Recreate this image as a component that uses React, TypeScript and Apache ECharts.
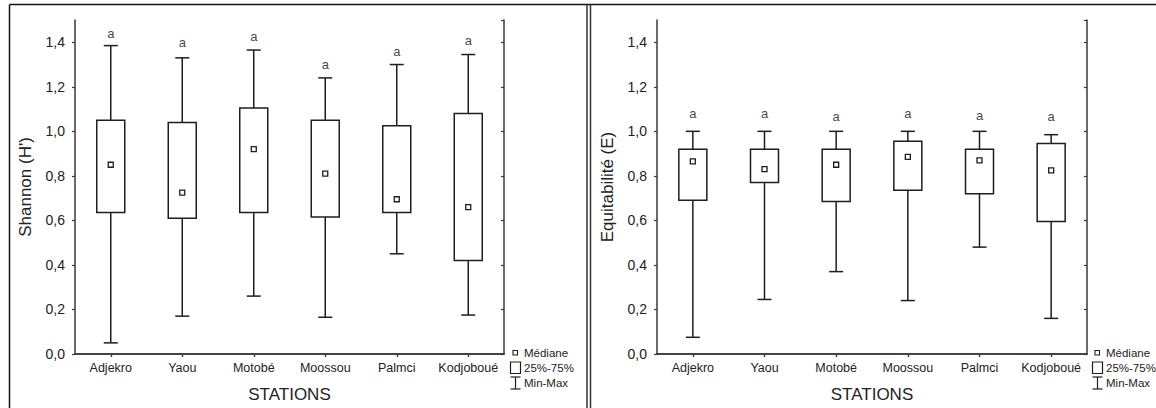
import React, { useEffect, useRef } from "react";
import * as echarts from "echarts";

const categories = ["Adjekro", "Yaou", "Motobé", "Moossou", "Palmci", "Kodjoboué"];
const yTickValues = [0, 0.2, 0.4, 0.6, 0.8, 1.0, 1.2, 1.4];

// Shannon (H')
const shannonMin = [0.05, 0.17, 0.26, 0.165, 0.45, 0.175];
const shannonQ1 = [0.635, 0.61, 0.635, 0.615, 0.635, 0.42];
const shannonMedian = [0.85, 0.725, 0.92, 0.81, 0.695, 0.66];
const shannonQ3 = [1.05, 1.04, 1.105, 1.05, 1.025, 1.08];
const shannonMax = [1.385, 1.33, 1.365, 1.24, 1.3, 1.345];
const shannonLetters = ["a", "a", "a", "a", "a", "a"];
const shannonLetterPos = [1.44, 1.4, 1.425, 1.3, 1.36, 1.41];

// Equitabilité (E)
const equitMin = [0.075, 0.245, 0.37, 0.24, 0.48, 0.16];
const equitQ1 = [0.69, 0.77, 0.685, 0.735, 0.72, 0.595];
const equitMedian = [0.865, 0.83, 0.85, 0.885, 0.87, 0.825];
const equitQ3 = [0.92, 0.92, 0.92, 0.955, 0.92, 0.945];
const equitMax = [1.0, 1.0, 1.0, 1.0, 1.0, 0.985];
const equitLetters = ["a", "a", "a", "a", "a", "a"];
const equitLetterPos = [1.08, 1.08, 1.065, 1.08, 1.07, 1.065];

const legendLabels = ["Médiane", "25%-75%", "Min-Max"];

const FONT = "'Liberation Sans', Arial, Helvetica, sans-serif";
const TEXT = "#222";
const LINE = "#1e1e1e";
const FRAME = "#3a3a3a";

function boxData(mn: number[], q1: number[], md: number[], q3: number[], mx: number[]) {
  return categories.map((_, i) => [i, mn[i], q1[i], md[i], q3[i], mx[i]]);
}

const renderBox = (params: any, api: any) => {
  const i = api.value(0);
  const pMin = api.coord([i, api.value(1)]);
  const pQ1 = api.coord([i, api.value(2)]);
  const pMed = api.coord([i, api.value(3)]);
  const pQ3 = api.coord([i, api.value(4)]);
  const pMax = api.coord([i, api.value(5)]);
  const x = pMin[0];
  const bw = 28;
  const cw = 14;
  const ms = 5;
  const ls = { stroke: LINE, lineWidth: 1.5, fill: null };
  return {
    type: "group",
    children: [
      { type: "line", shape: { x1: x, y1: pMin[1], x2: x, y2: pQ1[1] }, style: ls },
      { type: "line", shape: { x1: x, y1: pQ3[1], x2: x, y2: pMax[1] }, style: ls },
      { type: "line", shape: { x1: x - cw / 2, y1: pMin[1], x2: x + cw / 2, y2: pMin[1] }, style: ls },
      { type: "line", shape: { x1: x - cw / 2, y1: pMax[1], x2: x + cw / 2, y2: pMax[1] }, style: ls },
      {
        type: "rect",
        shape: { x: x - bw / 2, y: pQ3[1], width: bw, height: pQ1[1] - pQ3[1] },
        style: { stroke: LINE, lineWidth: 1.5, fill: "#fff" },
      },
      {
        type: "rect",
        shape: { x: x - ms / 2, y: pMed[1] - ms / 2, width: ms, height: ms },
        style: { stroke: LINE, lineWidth: 1.3, fill: "#fff" },
      },
    ],
  };
};

function legendGraphics(ox: number) {
  const ls = { stroke: LINE, lineWidth: 1.2, fill: null };
  const ts = (t: string, y: number) => ({
    type: "text",
    x: ox + 524,
    y,
    style: { text: t, fill: TEXT, font: `11.5px ${FONT}`, textVerticalAlign: "middle", textAlign: "left" },
  });
  return [
    { type: "rect", shape: { x: ox + 513, y: 350.5, width: 4.5, height: 4.5 }, style: { stroke: LINE, lineWidth: 1.1, fill: "#fff" } },
    ts(legendLabels[0], 353),
    { type: "rect", shape: { x: ox + 510.5, y: 362, width: 10, height: 11.5 }, style: { stroke: LINE, lineWidth: 1.2, fill: "#fff" } },
    ts(legendLabels[1], 367.5),
    { type: "line", shape: { x1: ox + 515.5, y1: 377, x2: ox + 515.5, y2: 389 }, style: ls },
    { type: "line", shape: { x1: ox + 510.5, y1: 377, x2: ox + 520.5, y2: 377 }, style: ls },
    { type: "line", shape: { x1: ox + 510.5, y1: 389, x2: ox + 520.5, y2: 389 }, style: ls },
    ts(legendLabels[2], 383),
  ];
}

const yLabelFormatter = (v: number) => {
  if (!yTickValues.some((t) => Math.abs(t - v) < 1e-6)) return "";
  return v.toFixed(1).replace(".", ",");
};

function axesFor(gi: number, yName: string) {
  const axisLine = { show: true, lineStyle: { color: FRAME, width: 1.5 } };
  const xAxes = [
    {
      type: "category",
      gridIndex: gi,
      data: categories,
      boundaryGap: true,
      position: "bottom",
      axisLine,
      axisTick: { show: true, alignWithLabel: true, interval: 0, length: 3, lineStyle: { color: FRAME, width: 1.2 } },
      axisLabel: { color: TEXT, fontSize: 12.5, fontFamily: FONT, margin: 7, interval: 0, hideOverlap: false },
      name: "STATIONS",
      nameLocation: "middle",
      nameGap: 32,
      nameTextStyle: { color: TEXT, fontSize: 17, fontFamily: FONT },
    },
    {
      type: "category",
      gridIndex: gi,
      data: categories,
      boundaryGap: true,
      position: "top",
      axisLine,
      axisTick: { show: true, inside: true, alignWithLabel: true, interval: 0, length: 3, lineStyle: { color: FRAME, width: 1.2 } },
      axisLabel: { show: false, interval: 0 },
    },
  ];
  const yBase = {
    type: "value",
    gridIndex: gi,
    min: 0,
    max: 1.5,
    interval: 0.2,
    splitLine: { show: false },
    axisLine,
  };
  const yAxes = [
    {
      ...yBase,
      position: "left",
      axisTick: { show: true, length: 3, lineStyle: { color: FRAME, width: 1.2 } },
      axisLabel: {
        color: TEXT,
        fontSize: 14,
        fontFamily: FONT,
        margin: 10,
        showMaxLabel: false,
        formatter: yLabelFormatter,
      },
      name: yName,
      nameLocation: "middle",
      nameRotate: 90,
      nameGap: 41,
      nameTextStyle: { color: TEXT, fontSize: 17, fontFamily: FONT },
    },
    {
      ...yBase,
      position: "right",
      axisTick: { show: true, inside: true, length: 3, lineStyle: { color: FRAME, width: 1.2 } },
      axisLabel: { show: false },
    },
  ];
  return { xAxes, yAxes };
}

export default function App() {
  const ref = useRef<HTMLDivElement>(null);
  useEffect(() => {
    if (!ref.current) return;
    const chart = echarts.init(ref.current, null, { renderer: "svg" });
    const a0 = axesFor(0, "Shannon (H')");
    const a1 = axesFor(1, "Equitabilité (E)");
    const letterSeries = (xi: number, yi: number, pos: number[], letters: string[]) => ({
      type: "scatter",
      xAxisIndex: xi,
      yAxisIndex: yi,
      symbolSize: 0,
      silent: true,
      data: categories.map((c, i) => [i, pos[i]]),
      label: {
        show: true,
        position: "inside",
        formatter: (p: any) => letters[p.dataIndex],
        color: "#111",
        fontSize: 13,
        fontFamily: FONT,
      },
    });
    chart.setOption({
      animation: false,
      backgroundColor: "#fff",
      grid: [
        { left: 75, top: 20, width: 429, height: 335.5 },
        { left: 657, top: 20, width: 430, height: 335.5 },
      ],
      xAxis: [...a0.xAxes, ...a1.xAxes],
      yAxis: [...a0.yAxes, ...a1.yAxes],
      series: [
        {
          type: "custom",
          xAxisIndex: 0,
          yAxisIndex: 0,
          renderItem: renderBox,
          encode: { x: 0, y: [1, 2, 3, 4, 5] },
          data: boxData(shannonMin, shannonQ1, shannonMedian, shannonQ3, shannonMax),
        },
        letterSeries(0, 0, shannonLetterPos, shannonLetters),
        {
          type: "custom",
          xAxisIndex: 2,
          yAxisIndex: 2,
          renderItem: renderBox,
          encode: { x: 0, y: [1, 2, 3, 4, 5] },
          data: boxData(equitMin, equitQ1, equitMedian, equitQ3, equitMax),
        },
        letterSeries(2, 2, equitLetterPos, equitLetters),
      ],
      graphic: [
        // panel frames
        { type: "line", shape: { x1: 9.5, y1: 4.5, x2: 1156, y2: 4.5 }, style: { stroke: "#111", lineWidth: 1.5 } },
        { type: "line", shape: { x1: 9.5, y1: 4.5, x2: 9.5, y2: 408 }, style: { stroke: "#111", lineWidth: 1.5 } },
        { type: "line", shape: { x1: 587, y1: 4.5, x2: 587, y2: 408 }, style: { stroke: "#333", lineWidth: 1.5 } },
        { type: "line", shape: { x1: 590.5, y1: 4.5, x2: 590.5, y2: 408 }, style: { stroke: "#333", lineWidth: 1.5 } },
        ...legendGraphics(0),
        ...legendGraphics(582),
      ],
    });
    return () => chart.dispose();
  }, []);
  return (
    <div
      ref={ref}
      style={{ position: "fixed", left: 0, top: 0, width: 1156, height: 408, background: "#fff" }}
    />
  );
}
